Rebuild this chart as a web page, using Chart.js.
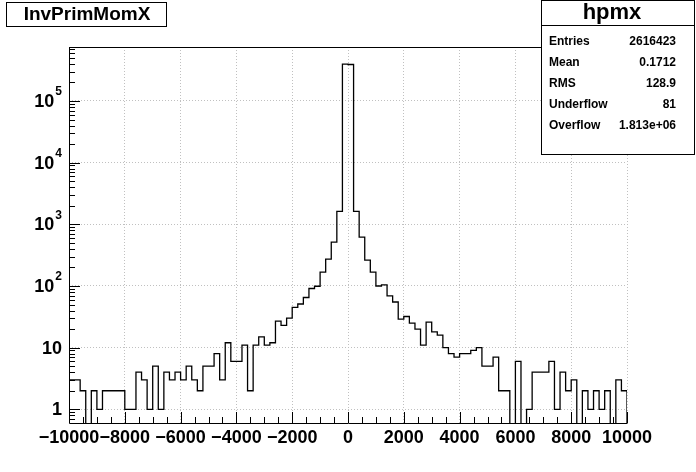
<!DOCTYPE html>
<html>
<head>
<meta charset="utf-8">
<script src="https://cdn.jsdelivr.net/npm/chart.js@4"></script>
<style>
  html, body { margin: 0; padding: 0; background: #fff; }
  canvas { display: block; }
</style>
</head>
<body>
<canvas id="hist" width="696" height="472"></canvas>
<script>
// histogram InvPrimMomX: 100 bins of 200 from -10000 to 10000
const binLow = -10000;
const binWidth = 200;
const binCounts = [
  3, 3, 2, 0, 2, 1, 2, 2, 2, 2,
  1, 1, 4, 3, 1, 5, 1, 4, 3, 4,
  3, 5, 3, 2, 5, 5, 8, 3, 12, 6,
  6, 11, 2, 11, 15, 11, 12, 27, 23, 30,
  45, 51, 65, 91, 99, 168, 272, 515, 1620, 395000,
  390000, 1620, 620, 262, 168, 100, 104, 69, 55, 29,
  32, 25, 20, 11, 26, 18, 16, 10, 8, 7,
  8, 8, 9, 10, 5, 5, 7, 2, 2, 0,
  6, 0, 1, 4, 4, 4, 6, 1, 4, 2,
  3, 0, 2, 1, 2, 1, 2, 0, 3, 2
];
const xTicks = [-10000, -8000, -6000, -4000, -2000, 0, 2000, 4000, 6000, 8000, 10000];
const yTicks = [1, 10, 100, 1000, 10000, 100000];
const yTickLabels = ['1', '10', '10^2', '10^3', '10^4', '10^5'];
const histTitle = 'InvPrimMomX';
const statsName = 'hpmx';
const statLabels = ['Entries', 'Mean', 'RMS', 'Underflow', 'Overflow'];
const statValues = ['2616423', '0.1712', '128.9', '81', '1.813e+06'];

const yMin = 0.648, yMax = 7.5e5;
const FONT = '"Liberation Sans", Arial, Helvetica, sans-serif';

// step outline points: left edge of each bin, empty bins pushed below the axis
const floorVal = yMin / 10;
const points = [{x: binLow, y: floorVal}];
binCounts.forEach((c, i) => points.push({x: binLow + i * binWidth, y: c > 0 ? c : floorVal}));
points.push({x: binLow + binCounts.length * binWidth, y: floorVal});

const rootDecor = {
  id: 'rootDecor',
  afterDraw(chart) {
    const {ctx, chartArea: a, scales: {x, y}} = chart;
    ctx.save();
    ctx.strokeStyle = '#000';
    ctx.lineWidth = 1;
    ctx.beginPath();
    ctx.moveTo(a.left + 0.5, a.top + 0.5);
    ctx.lineTo(a.left + 0.5, a.bottom + 0.5);
    ctx.lineTo(a.right + 0.5, a.bottom + 0.5);
    ctx.moveTo(a.left, a.top + 0.5);
    ctx.lineTo(a.right, a.top + 0.5);
    // x ticks, major every 2000, minor every 500
    for (let v = x.min; v <= x.max; v += 500) {
      const px = Math.round(x.getPixelForValue(v)) + 0.5;
      const len = (v % 2000 === 0) ? 11 : 6;
      ctx.moveTo(px, a.bottom);
      ctx.lineTo(px, a.bottom - len);
    }
    // y ticks, decades and 2..9
    for (let d = 0.1; d < yMax; d *= 10) {
      for (let k = 1; k < 10; k++) {
        const v = Math.round(d * k * 10) / 10;
        if (v < yMin || v > yMax) continue;
        const py = Math.round(y.getPixelForValue(v)) + 0.5;
        const len = k === 1 ? 11 : 6;
        ctx.moveTo(a.left, py);
        ctx.lineTo(a.left + len, py);
      }
    }
    ctx.stroke();

    // x labels
    ctx.fillStyle = '#000';
    ctx.font = 'bold 18px ' + FONT;
    ctx.textAlign = 'center';
    ctx.textBaseline = 'top';
    xTicks.forEach(v => {
      const txt = (v < 0 ? '\u2212' : '') + Math.abs(v);
      ctx.fillText(txt, x.getPixelForValue(v), a.bottom + 6);
    });

    // y labels with superscript exponent
    ctx.textBaseline = 'middle';
    ctx.textAlign = 'right';
    const right = a.left - 7;
    yTicks.forEach((v, i) => {
      const py = y.getPixelForValue(v);
      const [base, exp] = yTickLabels[i].split('^');
      if (exp) {
        ctx.font = 'bold 12px ' + FONT;
        const w = ctx.measureText(exp).width;
        ctx.fillText(exp, right, py - 9);
        ctx.font = 'bold 18px ' + FONT;
        ctx.fillText(base, right - w - 1, py + 1);
      } else {
        ctx.font = 'bold 18px ' + FONT;
        ctx.fillText(base, right, py + 1);
      }
    });

    // title box
    ctx.fillStyle = '#fff';
    ctx.fillRect(7, 3, 160, 24);
    ctx.strokeRect(6.5, 2.5, 160, 24);
    ctx.fillStyle = '#000';
    ctx.font = 'bold 19px ' + FONT;
    ctx.textAlign = 'center';
    ctx.fillText(histTitle, 87, 15);

    // stats box
    ctx.fillStyle = '#fff';
    ctx.fillRect(541, 0, 154, 155);
    ctx.strokeRect(541.5, 0.5, 153, 154);
    ctx.beginPath();
    ctx.moveTo(541, 25.5);
    ctx.lineTo(695, 25.5);
    ctx.stroke();
    ctx.fillStyle = '#000';
    ctx.font = 'bold 22px ' + FONT;
    ctx.fillText(statsName, 612, 13);
    ctx.font = 'bold 12px ' + FONT;
    statLabels.forEach((lab, i) => {
      const ty = 42 + i * 20.8;
      ctx.textAlign = 'left';
      ctx.fillText(lab, 549, ty);
      ctx.textAlign = 'right';
      ctx.fillText(statValues[i], 676, ty);
    });
    ctx.restore();
  }
};

const ctx = document.getElementById('hist').getContext('2d');
const chart = new Chart(ctx, {
  type: 'line',
  data: {
    datasets: [{
      label: histTitle,
      data: points,
      stepped: 'before',
      borderColor: '#000',
      borderWidth: 1.3,
      pointRadius: 0,
      fill: false,
      tension: 0
    }]
  },
  options: {
    responsive: false,
    animation: false,
    events: [],
    layout: { padding: { top: 47, right: 69, left: 0, bottom: 0 } },
    plugins: { legend: { display: false }, tooltip: { enabled: false }, title: { display: false } },
    scales: {
      x: {
        type: 'linear',
        min: -10000,
        max: 10000,
        afterBuildTicks: s => { s.ticks = xTicks.map(v => ({value: v})); },
        afterFit: s => { s.height = 49; },
        ticks: { display: false },
        grid: { color: '#c0c0c0', drawTicks: false, lineWidth: 1 },
        border: { display: false, dash: [1, 2] }
      },
      y: {
        type: 'logarithmic',
        min: yMin,
        max: yMax,
        afterBuildTicks: s => { s.ticks = yTicks.map(v => ({value: v})); },
        afterFit: s => { s.width = 69; },
        ticks: { display: false },
        grid: { color: '#c0c0c0', drawTicks: false, lineWidth: 1 },
        border: { display: false, dash: [1, 2] }
      }
    }
  },
  plugins: [rootDecor]
});
</script>
</body>
</html>
